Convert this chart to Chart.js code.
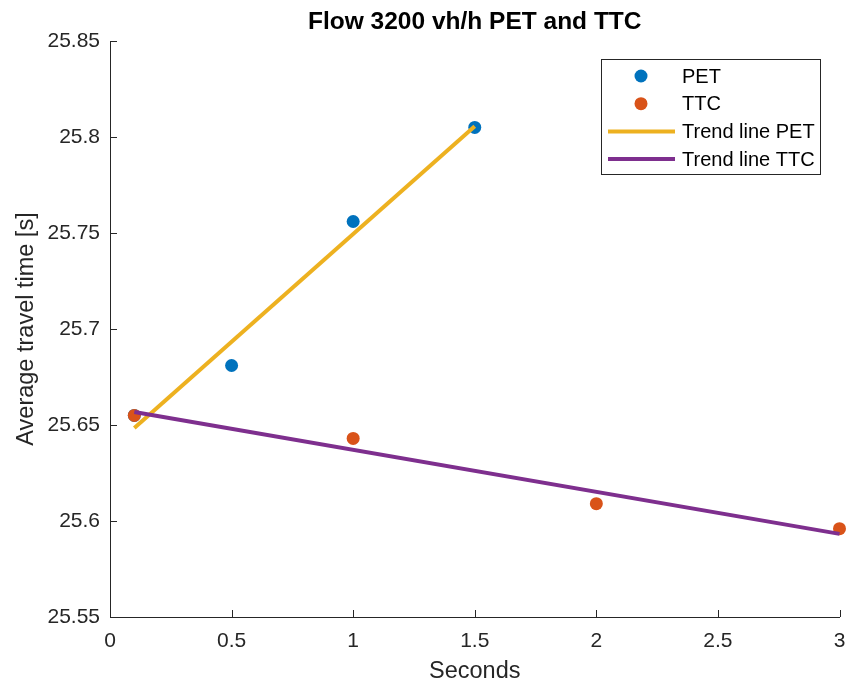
<!DOCTYPE html>
<html>
<head>
<meta charset="utf-8">
<title>Flow 3200 vh/h PET and TTC</title>
<script src="https://cdn.jsdelivr.net/npm/chart.js@4.4.1/dist/chart.umd.min.js"></script>
<style>
  html, body { margin: 0; padding: 0; background: #fff; }
  canvas { display: block; }
</style>
</head>
<body>
<canvas id="flowChart" width="846" height="686"></canvas>
<script>
// values
var petSeconds = [0.1, 0.5, 1, 1.5];
var petTravelTime = [25.655, 25.681, 25.756, 25.805];
var ttcSeconds = [0.1, 1, 2, 3];
var ttcTravelTime = [25.655, 25.643, 25.609, 25.596];
var petTrendSeconds = [0.1, 1.5];
var petTrendTime = [25.6485, 25.8056];
var ttcTrendSeconds = [0.1, 3];
var ttcTrendTime = [25.6568, 25.5933];
var xTicks = [0, 0.5, 1, 1.5, 2, 2.5, 3];
var yTicks = [25.55, 25.6, 25.65, 25.7, 25.75, 25.8, 25.85];
var chartTitle = "Flow 3200 vh/h PET and TTC";

var FONT = "'Liberation Sans', Arial, sans-serif";
var AXIS = "#262626";

function toPoints(xs, ys) {
  return xs.map(function (x, i) { return { x: x, y: ys[i] }; });
}

function fmt(v) {
  return String(+Number(v).toFixed(2));
}

// title centred over the axes, not the canvas
var axesTitle = {
  id: "axesTitle",
  afterDraw: function (chart) {
    var ctx = chart.ctx, a = chart.chartArea;
    ctx.save();
    ctx.font = "bold 24.5px " + FONT;
    ctx.fillStyle = "#000";
    ctx.textAlign = "center";
    ctx.textBaseline = "middle";
    ctx.fillText(chartTitle, (a.left + a.right) / 2, a.top - 19);
    ctx.restore();
  }
};

// MATLAB style ticks pointing into the plot
var inwardTicks = {
  id: "inwardTicks",
  beforeDatasetsDraw: function (chart) {
    var ctx = chart.ctx, a = chart.chartArea;
    var xs = chart.scales.x, ys = chart.scales.y;
    ctx.save();
    ctx.strokeStyle = AXIS;
    ctx.lineWidth = 1;
    ctx.beginPath();
    xTicks.forEach(function (v) {
      var px = Math.round(xs.getPixelForValue(v)) + 0.5;
      ctx.moveTo(px, a.bottom);
      ctx.lineTo(px, a.bottom - 7);
    });
    yTicks.forEach(function (v) {
      var py = Math.round(ys.getPixelForValue(v)) + 0.5;
      ctx.moveTo(a.left, py);
      ctx.lineTo(a.left + 7, py);
    });
    ctx.stroke();
    ctx.restore();
  }
};

// boxed legend in the top right corner of the axes
var boxLegend = {
  id: "boxLegend",
  afterDraw: function (chart) {
    var ctx = chart.ctx, a = chart.chartArea;
    var w = 219, h = 115;
    var left = Math.round(a.right - 20 - w), top = Math.round(a.top + 18);
    ctx.save();
    ctx.fillStyle = "#fff";
    ctx.fillRect(left, top, w, h);
    ctx.strokeStyle = AXIS;
    ctx.lineWidth = 1;
    ctx.strokeRect(left + 0.5, top + 0.5, w, h);
    ctx.font = "20px " + FONT;
    ctx.textBaseline = "middle";
    chart.data.datasets.forEach(function (ds, i) {
      var cy = top + 17 + i * 27.7;
      if (ds.showLine) {
        ctx.strokeStyle = ds.borderColor;
        ctx.lineWidth = ds.borderWidth;
        ctx.beginPath();
        ctx.moveTo(left + 7, cy);
        ctx.lineTo(left + 74, cy);
        ctx.stroke();
      } else {
        ctx.fillStyle = ds.backgroundColor;
        ctx.beginPath();
        ctx.arc(left + 40, cy, ds.pointRadius, 0, Math.PI * 2);
        ctx.fill();
      }
      ctx.fillStyle = "#000";
      ctx.fillText(ds.label, left + 81, cy + 1);
    });
    ctx.restore();
  }
};

var ctx = document.getElementById("flowChart").getContext("2d");
var myChart = new Chart(ctx, {
  type: "scatter",
  data: {
    datasets: [
      {
        label: "PET",
        data: toPoints(petSeconds, petTravelTime),
        backgroundColor: "#0072BD",
        borderColor: "#0072BD",
        pointRadius: 6.5,
        pointBorderWidth: 0,
        order: 3,
        clip: false,
      },
      {
        label: "TTC",
        data: toPoints(ttcSeconds, ttcTravelTime),
        backgroundColor: "#D95319",
        borderColor: "#D95319",
        pointRadius: 6.5,
        pointBorderWidth: 0,
        order: 2,
        clip: false,
      },
      {
        label: "Trend line PET",
        data: toPoints(petTrendSeconds, petTrendTime),
        showLine: true,
        borderColor: "#EDB120",
        backgroundColor: "#EDB120",
        borderWidth: 4,
        pointRadius: 0,
        order: 1,
        clip: false,
      },
      {
        label: "Trend line TTC",
        data: toPoints(ttcTrendSeconds, ttcTrendTime),
        showLine: true,
        borderColor: "#7E2F8E",
        backgroundColor: "#7E2F8E",
        borderWidth: 4,
        pointRadius: 0,
        order: 0,
        clip: false,
      },
    ],
  },
  options: {
    responsive: false,
    animation: false,
    layout: { padding: { left: 0, right: 5, top: 41, bottom: 0 } },
    plugins: {
      legend: { display: false },
      tooltip: { enabled: false },
      title: { display: false },
    },
    scales: {
      x: {
        type: "linear",
        min: 0,
        max: 3,
        afterBuildTicks: function (s) {
          s.ticks = xTicks.map(function (v) { return { value: v }; });
        },
        afterFit: function (s) {
          s.height = 69;
          s.paddingLeft = 0;
          s.paddingRight = 0;
        },
        grid: { display: true, drawOnChartArea: false, drawTicks: false },
        border: { display: true, color: AXIS, width: 1 },
        ticks: {
          color: AXIS,
          font: { family: FONT, size: 21 },
          padding: 12,
          maxRotation: 0,
          callback: fmt,
        },
        title: {
          display: true,
          text: "Seconds",
          color: AXIS,
          font: { family: FONT, size: 23.5 },
          padding: 0,
        },
      },
      y: {
        type: "linear",
        min: 25.55,
        max: 25.85,
        afterBuildTicks: function (s) {
          s.ticks = yTicks.map(function (v) { return { value: v }; });
        },
        afterFit: function (s) {
          s.width = 110;
          s.paddingTop = 0;
          s.paddingBottom = 0;
        },
        grid: { display: true, drawOnChartArea: false, drawTicks: false },
        border: { display: true, color: AXIS, width: 1 },
        ticks: {
          color: AXIS,
          font: { family: FONT, size: 21 },
          padding: 10,
          callback: fmt,
        },
        title: {
          display: true,
          text: "Average travel time [s]",
          color: AXIS,
          font: { family: FONT, size: 23.5 },
          padding: { top: 12, bottom: 0 },
        },
      },
    },
  },
  plugins: [axesTitle, inwardTicks, boxLegend],
});
</script>
</body>
</html>
